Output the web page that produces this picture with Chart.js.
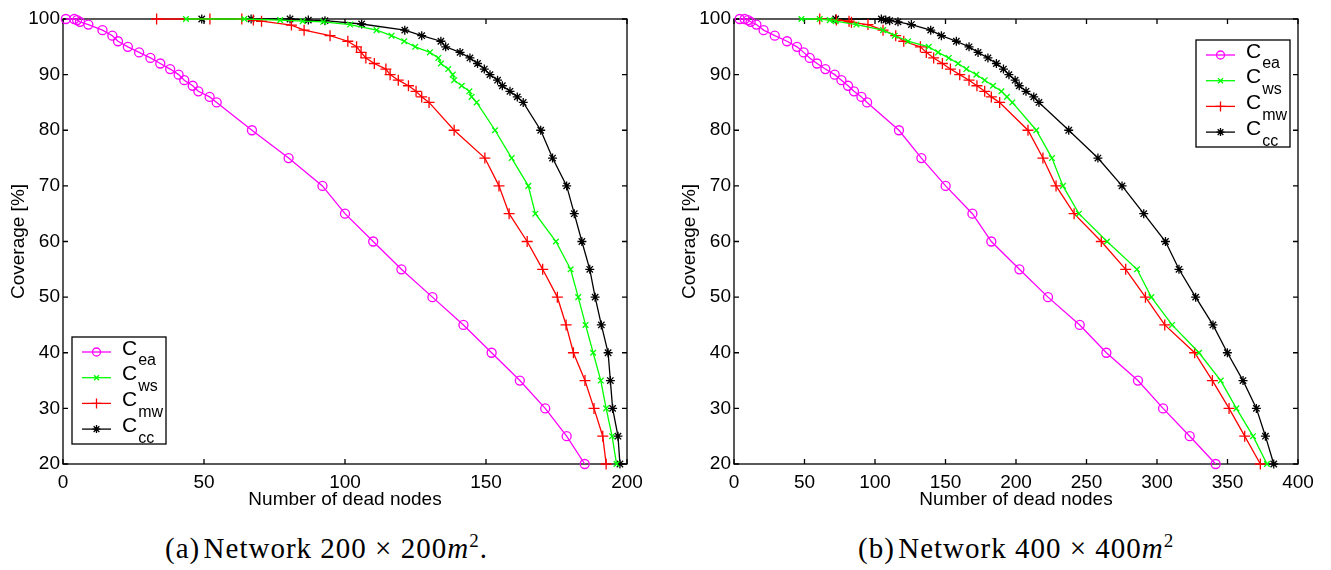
<!DOCTYPE html>
<html>
<head>
<meta charset="utf-8">
<script src="https://cdn.jsdelivr.net/npm/chart.js@4.4.1/dist/chart.umd.min.js"></script>
<style>
  html, body { margin: 0; padding: 0; background: #fff; width: 1331px; height: 570px; overflow: hidden; }
  canvas { position: absolute; top: 0; }
  #chartA { left: 0; }
  #chartB { left: 671px; }
  .caption { position: absolute; top: 531px; height: 34px; line-height: 34px; font-family: "Liberation Serif", serif; font-size: 29px; white-space: nowrap; color: #000; letter-spacing: 1px; }
  .caption sup { font-size: 19px; line-height: 0; }
  #capA { left: 165px; }
  #capB { left: 858px; }
</style>
</head>
<body>
<canvas id="chartA" width="665" height="520"></canvas>
<canvas id="chartB" width="665" height="520"></canvas>
<div class="caption" id="capA">(a)&#8202;Network 200 &times; 200<i>m</i><sup>2</sup>.</div>
<div class="caption" id="capB">(b)&#8202;Network 400 &times; 400<i>m</i><sup>2</sup></div>
<script>
// series names (subscripts of C) and styles
const names = ['ea', 'ws', 'mw', 'cc'];
const colors = ['#ff00ff', '#00ff00', '#ff0000', '#000000'];
const marks = ['circle', 'crossRot', 'cross', 'star'];
const markSize = [4.5, 4, 5.5, 4.5];

// (a) 200 x 200
const aEaX = [1,4,5,6,9,14,17.5,19.5,23,27,31,34.5,38,41,43,46,48,52,54.5,67,80,92,100,110,120,131,142,152,162,171,178.6,185];
const aEaY = [100,100,99.8,99.5,99,98,97,96,95,94,93,92,91,90,89,88,87,86,85,80,75,70,65,60,55,50,45,40,35,30,25,20];
const aWsX = [43.6,64.3,77,85,92.3,101.8,111.2,116.5,121,124.9,130.1,133.1,134,136.6,138.2,138.7,141.4,144.1,144.9,146.7,153.2,159.1,165,167.5,174.8,180,182.7,185.3,188,190.7,192.6,194.7,196.3];
const aWsY = [100,100,99.8,99.6,99.5,99,98,97,96,95,94,93,92,91,90,89,88,87,86,85,80,75,70,65,60,55,50,45,40,35,30,25,20];
const aMwX = [33.2,52.1,63.4,67.5,70.4,81,85.5,94.7,101,104.1,105.7,107.4,110.4,114.5,116,118.9,122.5,125.2,127.2,129.8,138.7,149.6,154.6,158.2,164.6,170.1,175.3,178.4,181,185.1,188.3,191.4,192.6];
const aMwY = [100,100,100,99.8,99.6,98.9,98,97,96,95,94,93,92,91,90,89,88,87,86,85,80,75,70,65,60,55,50,45,40,35,30,25,20];
const aCcX = [49.2,66.7,80.5,87,92.9,105.9,121.2,127.2,134,135.7,140.8,144.3,147,149.4,151.4,154.1,155.8,158.5,161.1,163.2,169.4,173.6,178.6,181.3,184,186.8,188.7,190.9,193.3,194.1,194.9,196.8,197.5];
const aCcY = [100,100,100,99.8,99.7,99.1,98,97,96,95,94,93,92,91,90,89,88,87,86,85,80,75,70,65,60,55,50,45,40,35,30,25,20];

// (b) 400 x 400
const bEaX = [4,7.6,10,11.8,15.9,21,28.9,37.6,44.7,49.4,53.7,58.9,64.8,71.4,76.2,80.9,85.1,90.4,94.4,117,132.9,150.1,169.1,182.5,202.4,222.7,245.2,264.1,286.5,304.3,323.2,341.6];
const bEaY = [100,100,99.8,99.5,99,98,97,96,95,94,93,92,91,90,89,88,87,86,85,80,75,70,65,60,55,50,45,40,35,30,25,20];
const bWsX = [47.8,60.8,67.9,72.1,86.8,105.7,114,123.4,138.1,144.7,152.3,158.9,164.8,171.9,177.8,183.7,189.6,193.6,197.4,214.4,225.5,233.3,244.6,264.6,285.8,296,310.7,329.8,345.2,356.3,368.1,378];
const bWsY = [100,100,99.8,99.6,99,98,97,96,95,94,93,92,91,90,89,88,87,86,85,80,75,70,65,60,55,50,45,40,35,30,25,20];
const bMwX = [60.8,72.6,81.6,83.3,95,105.7,114.7,120.4,132.2,136.4,141.6,147.8,153.5,160.1,166.7,172.3,177.8,182.5,188.4,208.5,219.1,228.4,241.2,260.5,277.8,291.8,305.5,326.7,339.3,351.1,362.2,373.3];
const bMwY = [100,99.8,99.6,99.4,99,98,97,96,95,94,93,92,91,90,89,88,87,86,85,80,75,70,65,60,55,50,45,40,35,30,25,20];
const bCcX = [72.1,104.5,107.6,110.4,116.3,125.8,139.5,147.1,157.7,166.7,173.1,180.1,186.1,191.1,195,199.4,202.3,207.1,212.6,216.3,237.4,258.1,275.2,290.6,306,315.6,327.4,339.7,349.9,361,370.5,376.9,382.8];
const bCcY = [100,100,99.8,99.7,99.5,99,98,97,96,95,94,93,92,91,90,89,88,87,86,85,80,75,70,65,60,55,50,45,40,35,30,25,20];

const yTicks = [20, 30, 40, 50, 60, 70, 80, 90, 100];

const font = { family: '"Liberation Sans", Arial, sans-serif', size: 19 };

const zip = (xs, ys) => xs.map((x, i) => ({ x: x, y: ys[i] }));

const makeSets = (pairs) => pairs.map((p, i) => ({
  label: 'C' + names[i],
  data: zip(p[0], p[1]),
  borderColor: colors[i],
  backgroundColor: 'rgba(0,0,0,0)',
  borderWidth: 1.3,
  pointStyle: marks[i],
  pointRadius: markSize[i],
  pointBorderWidth: 1.3,
  pointBorderColor: colors[i],
  pointBackgroundColor: 'rgba(0,0,0,0)',
  tension: 0,
  clip: false
}));

// box around the axes with inward tick marks on all sides (matlab look)
const boxPlugin = {
  id: 'box',
  beforeDatasetsDraw(chart) {
    const { ctx, chartArea: a, scales } = chart;
    ctx.save();
    ctx.strokeStyle = '#000';
    ctx.lineWidth = 1.3;
    ctx.beginPath();
    scales.x.ticks.forEach(t => {
      const px = scales.x.getPixelForValue(t.value);
      ctx.moveTo(px, a.bottom); ctx.lineTo(px, a.bottom - 5);
      ctx.moveTo(px, a.top); ctx.lineTo(px, a.top + 5);
    });
    scales.y.ticks.forEach(t => {
      const py = scales.y.getPixelForValue(t.value);
      ctx.moveTo(a.left, py); ctx.lineTo(a.left + 5, py);
      ctx.moveTo(a.right, py); ctx.lineTo(a.right - 5, py);
    });
    ctx.stroke();
    ctx.strokeRect(a.left, a.top, a.right - a.left, a.bottom - a.top);
    ctx.restore();
  }
};

// legend with subscripts, drawn as a boxed key
const keyPlugin = {
  id: 'key',
  afterDatasetsDraw(chart, args, opts) {
    const { ctx, chartArea: a } = chart;
    const w = 94, h = 107;
    const left = opts.fromRight ? a.right - opts.dx - w : a.left + opts.dx;
    const top = a.top + opts.dy;
    ctx.save();
    ctx.fillStyle = '#fff';
    ctx.fillRect(left, top, w, h);
    ctx.strokeStyle = '#000';
    ctx.lineWidth = 1.3;
    ctx.strokeRect(left, top, w, h);
    chart.data.datasets.forEach((ds, i) => {
      const cy = top + 15 + i * 25.7;
      ctx.strokeStyle = ds.borderColor;
      ctx.lineWidth = ds.borderWidth;
      ctx.beginPath();
      ctx.moveTo(left + 10, cy);
      ctx.lineTo(left + 39, cy);
      ctx.stroke();
      ctx.fillStyle = 'rgba(0,0,0,0)';
      Chart.helpers.drawPoint(ctx, { pointStyle: ds.pointStyle, radius: ds.pointRadius - 0.5, borderWidth: ds.pointBorderWidth, rotation: 0 }, left + 24.5, cy);
      ctx.fillStyle = '#000';
      ctx.textAlign = 'left';
      ctx.textBaseline = 'middle';
      ctx.font = '21px "Liberation Sans"';
      ctx.fillText('C', left + 50, cy - 3);
      const cw = ctx.measureText('C').width;
      ctx.font = '16px "Liberation Sans"';
      ctx.fillText(names[i], left + 50 + cw + 1, cy + 9);
    });
    ctx.restore();
  }
};

function build(id, pairs, xMax, key) {
  return new Chart(document.getElementById(id), {
    type: 'line',
    data: { datasets: makeSets(pairs) },
    options: {
      responsive: false,
      animation: false,
      layout: { padding: { left: 0, top: 19, right: 38, bottom: 0 } },
      plugins: { legend: { display: false }, tooltip: { enabled: false }, key: key },
      scales: {
        x: {
          type: 'linear', min: 0, max: xMax,
          ticks: { stepSize: 50, font: font, color: '#000', padding: 7, maxRotation: 0 },
          grid: { display: false, drawTicks: false },
          border: { display: false },
          title: { display: true, text: 'Number of dead nodes', font: font, color: '#000', padding: { top: 0, bottom: 9 } },
          afterFit: s => { s.height = 56; }
        },
        y: {
          type: 'linear', min: 20, max: 100,
          afterBuildTicks: s => { s.ticks = yTicks.map(v => ({ value: v })); },
          ticks: { font: font, color: '#000', padding: 3 },
          grid: { display: false, drawTicks: false },
          border: { display: false },
          title: { display: true, text: 'Coverage [%]', font: font, color: '#000', padding: { top: 7, bottom: 0 } },
          afterFit: s => { s.width = 63; }
        }
      }
    },
    plugins: [boxPlugin, keyPlugin]
  });
}

build('chartA', [[aEaX, aEaY], [aWsX, aWsY], [aMwX, aMwY], [aCcX, aCcY]], 200, { fromRight: false, dx: 9, dy: 318 });
build('chartB', [[bEaX, bEaY], [bWsX, bWsY], [bMwX, bMwY], [bCcX, bCcY]], 400, { fromRight: true, dx: 8, dy: 21 });
</script>
</body>
</html>
